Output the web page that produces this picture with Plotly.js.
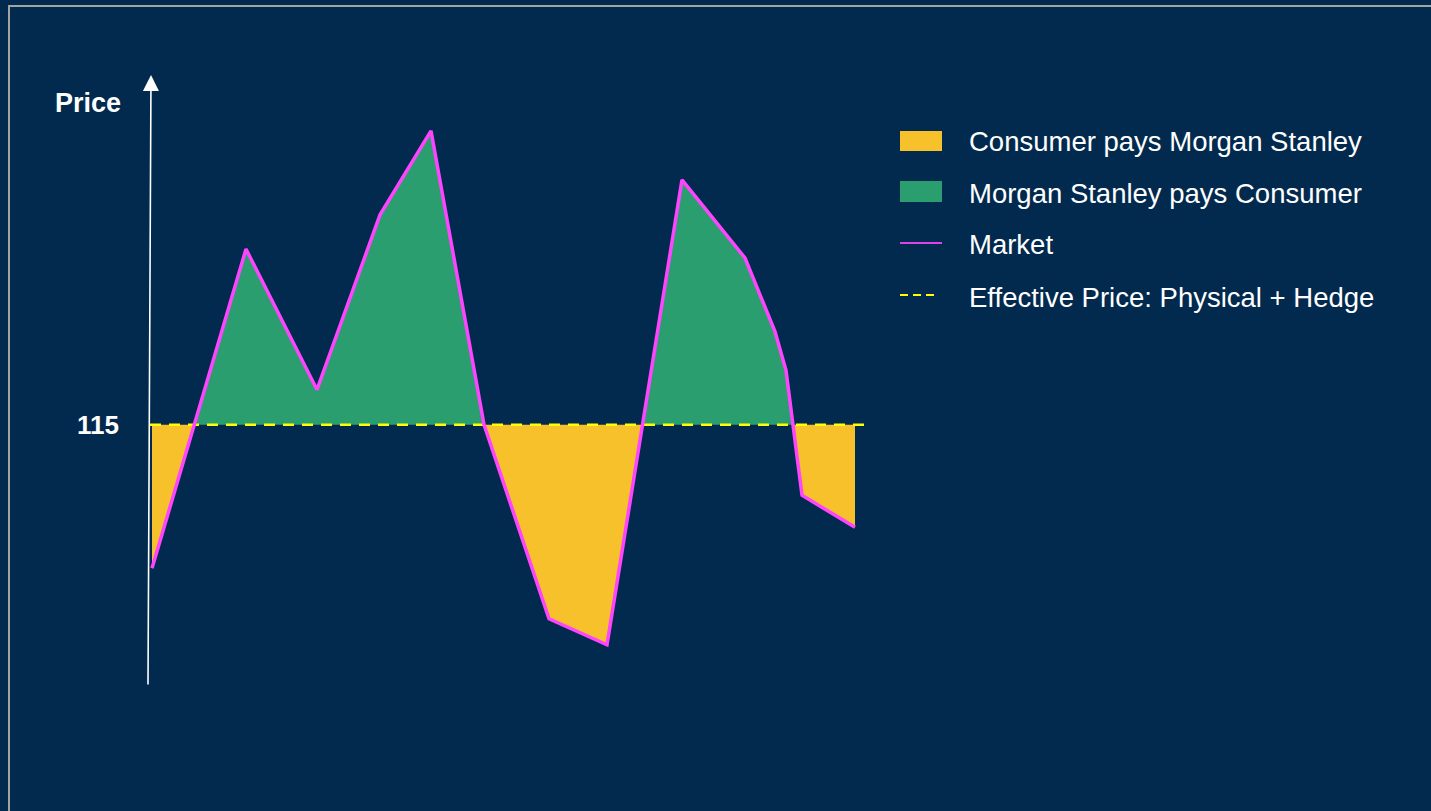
<!DOCTYPE html>
<html>
<head>
<meta charset="utf-8">
<script src="https://cdn.plot.ly/plotly-3.0.1.min.js"></script>
<style>
  html, body { margin: 0; padding: 0; background: #012a4e; overflow: hidden; }
  #chart { width: 1431px; height: 811px; }
  #frame { position: absolute; left: 8px; top: 5px; width: 3000px; height: 3000px;
           border: 2px solid #a3a3a3; pointer-events: none; }
</style>
</head>
<body>
<div id="chart"></div>
<div id="frame"></div>
<script>
// ---- data ----
const periods = [0.4, 9.8, 16.9, 23.2, 28.3, 33.6, 40.1, 45.9, 53.4, 59.7, 62.7, 63.8, 65.4, 70.7];
const marketPrice = [95.7, 138.6, 119.7, 143.2, 154.5, 115.0, 88.9, 85.4, 147.9, 137.4, 127.5, 122.3, 105.5, 101.2];
const effectivePrice = 115;
const effectiveSpan = [0.2, 72.1];
const seriesNames = ["Consumer pays Morgan Stanley", "Morgan Stanley pays Consumer", "Market", "Effective Price: Physical + Hedge"];
const priceTickLabel = "115";
const axisLabel = "Price";

// ---- colours ----
const BG = "#012a4e", GREEN = "#2b9e6f", YELLOW = "#f6c12a", MAGENTA = "#ff44ff", DASH = "#ffff00";
const FONT = 'Arial, "Liberation Sans", sans-serif';

// ---- split the market line at the effective price so each area fills correctly ----
const xs = [], ys = [];
for (let i = 0; i < periods.length; i++) {
  if (i > 0) {
    const v1 = marketPrice[i - 1] - effectivePrice, v2 = marketPrice[i] - effectivePrice;
    if (v1 * v2 < 0) {
      const t = v1 / (v1 - v2);
      xs.push(periods[i - 1] + t * (periods[i] - periods[i - 1]));
      ys.push(effectivePrice);
    }
  }
  xs.push(periods[i]); ys.push(marketPrice[i]);
}
const upper = ys.map(v => Math.max(v, effectivePrice));
const lower = ys.map(v => Math.min(v, effectivePrice));
const base = xs.map(() => effectivePrice);

const traces = [
  {x: xs, y: base, mode: "lines", line: {width: 0}, hoverinfo: "skip", showlegend: false},
  {x: xs, y: upper, mode: "lines", fill: "tonexty", fillcolor: GREEN, line: {width: 0},
   name: seriesNames[1], showlegend: false},
  {x: xs, y: base, mode: "lines", line: {width: 0}, hoverinfo: "skip", showlegend: false},
  {x: xs, y: lower, mode: "lines", fill: "tonexty", fillcolor: YELLOW, line: {width: 0},
   name: seriesNames[0], showlegend: false},
  {x: effectiveSpan, y: [effectivePrice, effectivePrice], mode: "lines",
   line: {color: DASH, width: 2.5, dash: "11px,8px"}, name: seriesNames[3], showlegend: false},
  {x: periods, y: marketPrice, mode: "lines", line: {color: MAGENTA, width: 3.5},
   name: seriesNames[2], showlegend: false}
];

// ---- layout geometry ----
const W = 1431, H = 811;
const L = 148, R = 872, T = 75, B = 685;
const XMAX = (R - L) / 10;
const px = p => (p - L) / (R - L);
const py = p => (B - p) / (B - T);

const shapes = [
  {type: "rect", xref: "paper", yref: "paper", x0: px(900), x1: px(942), y0: py(151), y1: py(131),
   fillcolor: YELLOW, line: {width: 0}},
  {type: "rect", xref: "paper", yref: "paper", x0: px(900), x1: px(942), y0: py(202), y1: py(181),
   fillcolor: GREEN, line: {width: 0}},
  {type: "line", xref: "paper", yref: "paper", x0: px(900), x1: px(942), y0: py(243), y1: py(243),
   line: {color: "#e040e8", width: 2}},
  {type: "line", xref: "paper", yref: "paper", x0: px(900), x1: px(938), y0: py(295), y1: py(295),
   line: {color: DASH, width: 2, dash: "8px,5px"}}
];

const legendYs = [141, 193, 245, 297];
const annotations = [
  {xref: "paper", yref: "paper", x: px(151), y: py(75), ax: -3, ay: 611, axref: "pixel", ayref: "pixel",
   showarrow: true, arrowhead: 2, arrowsize: 2, arrowwidth: 1.6, arrowcolor: "#ffffff", text: ""},
  {xref: "paper", yref: "paper", x: px(123), y: py(103), xanchor: "right", yanchor: "middle",
   text: "<b>" + axisLabel + "</b>", showarrow: false, font: {family: FONT, size: 27, color: "#ffffff"}},
  {xref: "paper", yref: "y", x: px(121), y: effectivePrice, xanchor: "right", yanchor: "middle",
   text: "<b>" + priceTickLabel + "</b>", showarrow: false, font: {family: FONT, size: 26, color: "#ffffff"}}
];
seriesNames.forEach((n, i) => annotations.push({
  xref: "paper", yref: "paper", x: px(967), y: py(legendYs[i]), xanchor: "left", yanchor: "middle",
  text: n, showarrow: false, font: {family: FONT, size: 27.5, color: "#ffffff"}
}));

const layout = {
  width: W, height: H,
  margin: {l: L, r: W - R, t: T, b: H - B, pad: 0},
  paper_bgcolor: BG, plot_bgcolor: BG,
  xaxis: {range: [0, XMAX], visible: false, fixedrange: true},
  yaxis: {range: [80, 162], visible: false, fixedrange: true},
  showlegend: false,
  shapes: shapes,
  annotations: annotations,
  font: {family: FONT, color: "#ffffff"}
};

Plotly.newPlot("chart", traces, layout, {displayModeBar: false, staticPlot: true});
</script>
</body>
</html>
